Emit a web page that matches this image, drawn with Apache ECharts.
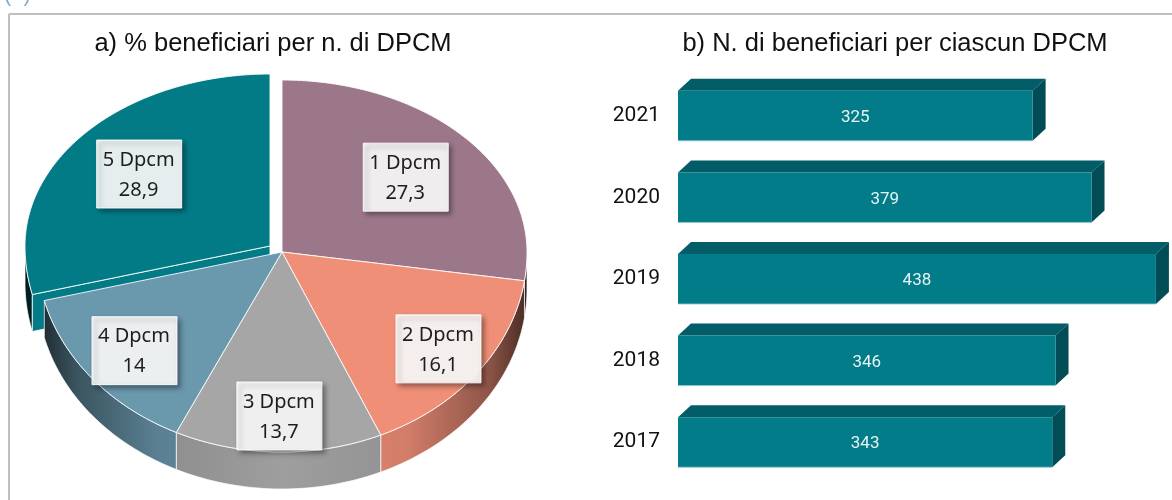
<!DOCTYPE html>
<html>
<head>
<meta charset="utf-8">
<script src="https://cdn.jsdelivr.net/npm/echarts@6/dist/echarts.min.js"></script>
<style>
  html, body { margin: 0; padding: 0; background: #fff; }
  #chart { width: 1172px; height: 500px; }
</style>
</head>
<body>
<div id="chart"></div>
<script>
// data
const sliceNames = ['1 Dpcm', '2 Dpcm', '3 Dpcm', '4 Dpcm', '5 Dpcm'];
const sliceValues = [27.3, 16.1, 13.7, 14, 28.9];
const years = ['2017', '2018', '2019', '2020', '2021'];
const beneficiari = [343, 346, 438, 379, 325];

// styling / layout
const sliceColors = ['#9c778a', '#f08f78', '#a6a6a6', '#6a98ad', '#037b87'];
const labelFrac = [0.665, 0.8, 0.82, 0.78, 0.68];
const explodeIdx = 4;
// fake perspective pie: wider radius below the centre
const P = { cx: 282, cy: 252, rx: 245, ryTop: 172, ryBottom: 200, depth: 37, explode: [-12, -6] };
const BAR = { frac: 0.613, dx: 13, dy: 12 };

const total = sliceValues.reduce((a, b) => a + b, 0);
const startAngles = [];
let acc = 0;
sliceValues.forEach(v => { startAngles.push(acc / total * Math.PI * 2); acc += v; });

function rim(t, off, dy) {
  const c = Math.cos(t);
  const ry = c > 0 ? P.ryTop : P.ryBottom;
  return [P.cx + P.rx * Math.sin(t) + off[0], P.cy - ry * c + off[1] + (dy || 0)];
}

function arcPts(a0, a1, off, dy) {
  const n = Math.max(2, Math.ceil((a1 - a0) / 0.02));
  const pts = [];
  for (let i = 0; i <= n; i++) pts.push(rim(a0 + (a1 - a0) * i / n, off, dy));
  return pts;
}

function shade(hex, k) {
  const n = parseInt(hex.slice(1), 16);
  const r = Math.round(((n >> 16) & 255) * k);
  const g = Math.round(((n >> 8) & 255) * k);
  const b = Math.round((n & 255) * k);
  return `rgb(${r},${g},${b})`;
}

function sideFill(c) {
  return new echarts.graphic.LinearGradient(P.cx - P.rx, 0, P.cx + P.rx, 0, [
    { offset: 0, color: shade(c, 0.25) },
    { offset: 0.08, color: shade(c, 0.55) },
    { offset: 0.25, color: shade(c, 0.85) },
    { offset: 0.5, color: shade(c, 0.95) },
    { offset: 0.75, color: shade(c, 0.88) },
    { offset: 0.92, color: shade(c, 0.6) },
    { offset: 1, color: shade(c, 0.3) }
  ], true);
}

const fmt = v => String(v).replace('.', ',');

function renderSlice(params, api) {
  const i = params.dataIndex;
  const a0 = startAngles[i];
  const a1 = a0 + sliceValues[i] / total * Math.PI * 2;
  const off = i === explodeIdx ? P.explode : [0, 0];
  const base = i === explodeIdx ? 0 : 2;
  const color = sliceColors[i];
  const apex = [P.cx + off[0], P.cy + off[1]];
  const children = [];

  // outer wall, only the part facing us
  const s0 = Math.max(a0, Math.PI / 2), s1 = Math.min(a1, Math.PI * 1.5);
  if (s1 > s0) {
    const top = arcPts(s0, s1, off, 0);
    const bot = arcPts(s0, s1, off, P.depth).reverse();
    children.push({
      type: 'polygon', z2: base,
      shape: { points: top.concat(bot) },
      style: { fill: sideFill(color), stroke: 'rgba(255,255,255,0.7)', lineWidth: 1 }
    });
  }
  // cut face of the pulled-out slice
  if (i === explodeIdx) {
    const r = rim(a0, off, 0);
    children.push({
      type: 'polygon', z2: base,
      shape: { points: [apex, r, [r[0], r[1] + P.depth], [apex[0], apex[1] + P.depth]] },
      style: { fill: color, stroke: 'rgba(255,255,255,0.85)', lineWidth: 1 }
    });
  }
  // top face
  children.push({
    type: 'polygon', z2: base + 1,
    shape: { points: [apex].concat(arcPts(a0, a1, off, 0)) },
    style: { fill: color, stroke: 'rgba(255,255,255,0.85)', lineWidth: 1 }
  });

  // label box
  const mid = (a0 + a1) / 2;
  const c = Math.cos(mid);
  const ry = c > 0 ? P.ryTop : P.ryBottom;
  const lx = apex[0] + P.rx * Math.sin(mid) * labelFrac[i];
  const ly = apex[1] - ry * c * labelFrac[i];
  children.push({
    type: 'rect', z2: 10,
    shape: { x: lx - 42, y: ly - 34, width: 85, height: 68 },
    style: {
      fill: 'rgba(255,255,255,0.9)', stroke: 'rgba(255,255,255,0.9)', lineWidth: 1,
      shadowBlur: 5, shadowOffsetX: 3, shadowOffsetY: 3, shadowColor: 'rgba(0,0,0,0.45)'
    }
  });
  children.push({
    type: 'text', z2: 11, x: lx, y: ly + 1,
    style: {
      text: sliceNames[i] + '\n' + fmt(sliceValues[i]),
      font: '20px "Noto Sans"', fill: '#1e1e1e', lineHeight: 30,
      align: 'center', verticalAlign: 'middle', textAlign: 'center', textVerticalAlign: 'middle'
    }
  });
  return { type: 'group', children };
}

function renderBar(params, api) {
  const v = api.value(0), cat = api.value(1);
  const s = api.coord([0, cat]);
  const e = api.coord([v, cat]);
  const h = api.size([0, 1])[1] * BAR.frac;
  const x0 = s[0], x1 = e[0], yT = e[1] - h / 2, yB = e[1] + h / 2;
  return {
    type: 'group',
    children: [
      { type: 'polygon', shape: { points: [[x0, yT], [x0 + BAR.dx, yT - BAR.dy], [x1 + BAR.dx, yT - BAR.dy], [x1, yT]] },
        style: { fill: '#035d68' } },
      { type: 'polygon', shape: { points: [[x1, yT], [x1 + BAR.dx, yT - BAR.dy], [x1 + BAR.dx, yB - BAR.dy], [x1, yB]] },
        style: { fill: '#024c55' } },
      { type: 'rect', shape: { x: x0, y: yT, width: x1 - x0, height: h }, style: { fill: '#017c88' } },
      { type: 'line', shape: { x1: x0, y1: yB, x2: x1, y2: yB }, style: { stroke: 'rgba(150,200,205,0.8)', lineWidth: 1 } },
      { type: 'text', x: (x0 + x1) / 2, y: e[1] + 2,
        style: { text: String(v), font: '17px Roboto', fill: '#e8f3f4',
          align: 'center', verticalAlign: 'middle', textAlign: 'center', textVerticalAlign: 'middle' } }
    ]
  };
}

const chart = echarts.init(document.getElementById('chart'), null, { renderer: 'canvas' });
chart.setOption({
  animation: false,
  backgroundColor: '#ffffff',
  graphic: [
    { type: 'line', shape: { x1: 9, y1: 14, x2: 1172, y2: 14 }, style: { stroke: '#bfbfbf', lineWidth: 2 } },
    { type: 'line', shape: { x1: 9, y1: 14, x2: 9, y2: 500 }, style: { stroke: '#bfbfbf', lineWidth: 2 } },
    { type: 'text', x: 4, y: 6,
      style: { text: '(  )', font: '22px "Liberation Sans"', fill: '#86aec0', align: 'left', verticalAlign: 'bottom', textAlign: 'left', textVerticalAlign: 'bottom' } },
    { type: 'text', x: 273, y: 44,
      style: { text: 'a) % beneficiari per n. di DPCM', font: '25.5px "Liberation Sans"', fill: '#111',
        align: 'center', verticalAlign: 'middle', textAlign: 'center', textVerticalAlign: 'middle' } },
    { type: 'text', x: 895, y: 44,
      style: { text: 'b) N. di beneficiari per ciascun DPCM', font: '25.5px "Liberation Sans"', fill: '#111',
        align: 'center', verticalAlign: 'middle', textAlign: 'center', textVerticalAlign: 'middle' } }
  ],
  grid: { left: 678, right: 3, top: 75, bottom: 17 },
  xAxis: { type: 'value', min: 0, max: 450, show: false },
  yAxis: {
    type: 'category', data: years,
    axisLine: { show: false }, axisTick: { show: false }, splitLine: { show: false },
    axisLabel: { fontFamily: 'Roboto', fontSize: 21, color: '#111', margin: 18, padding: [8, 0, 0, 0] }
  },
  series: [
    {
      type: 'custom', coordinateSystem: 'none',
      data: sliceValues.map((v, i) => [v, i]),
      renderItem: renderSlice, silent: true
    },
    {
      type: 'custom', coordinateSystem: 'cartesian2d',
      data: beneficiari.map((v, i) => [v, i]),
      encode: { x: 0, y: 1 },
      renderItem: renderBar, silent: true
    }
  ]
});
</script>
</body>
</html>
